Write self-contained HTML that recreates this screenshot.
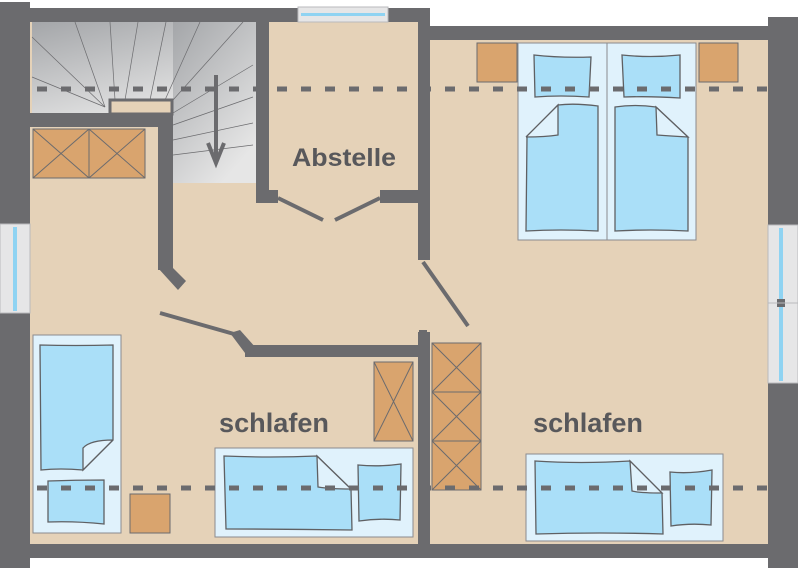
<!DOCTYPE html>
<html><head><meta charset="utf-8"><style>
html,body{margin:0;padding:0;background:#fff;}
svg{display:block;}
text{font-family:"Liberation Sans",sans-serif;font-weight:bold;fill:#58585b;}
</style></head><body>
<svg width="798" height="568" viewBox="0 0 798 568" xmlns="http://www.w3.org/2000/svg">
<defs>
<linearGradient id="st" x1="0" y1="0" x2="0.6" y2="1">
<stop offset="0" stop-color="#a4a6a9"/><stop offset="1" stop-color="#e6e6e6"/>
</linearGradient>
</defs>
<rect x="30" y="22" width="400" height="522" fill="#e5d2b8"/>
<rect x="418" y="38" width="352" height="506" fill="#e5d2b8"/>
<rect x="32" y="22" width="224" height="91" fill="url(#st)"/>
<rect x="173" y="22" width="83" height="161" fill="url(#st)"/>
<g stroke="#6b6b6e" stroke-width="0.7" fill="none">
<line x1="105" y1="107" x2="32" y2="37"/>
<line x1="105" y1="107" x2="32" y2="77"/>
<line x1="105" y1="107" x2="75" y2="22"/>
<line x1="115" y1="100" x2="110" y2="22"/>
<line x1="125" y1="100" x2="138" y2="22"/>
<line x1="150" y1="100" x2="166" y2="22"/>
<line x1="165" y1="100" x2="200" y2="22"/>
<line x1="173" y1="100" x2="243" y2="22"/>
<line x1="173" y1="113" x2="253" y2="65"/>
<line x1="173" y1="125" x2="253" y2="97"/>
<line x1="173" y1="140" x2="253" y2="123"/>
<line x1="173" y1="155" x2="253" y2="145"/>
</g>
<g fill="#d9a46e" stroke="#6b6b6e" stroke-width="1">
<rect x="33" y="129" width="112" height="49"/>
<line x1="89" y1="129" x2="89" y2="178"/>
<path d="M33 129 L89 178 M89 129 L33 178 M89 129 L145 178 M145 129 L89 178" fill="none"/>
<rect x="374" y="362" width="39" height="79"/>
<path d="M374 362 L413 441 M413 362 L374 441" fill="none"/>
<rect x="432" y="343" width="49" height="147"/>
<path d="M432 392 H481 M432 441 H481 M432 343 L481 392 M481 343 L432 392 M432 392 L481 441 M481 392 L432 441 M432 441 L481 490 M481 441 L432 490" fill="none"/>
<rect x="477" y="43" width="40" height="39"/>
<rect x="699" y="43" width="39" height="39"/>
<rect x="130" y="494" width="40" height="39"/>
</g>
<g stroke="#8a8b8e" stroke-width="1" fill="#e0f2fc">
<rect x="518" y="43" width="178" height="197"/>
<line x1="607" y1="43" x2="607" y2="240"/>
<rect x="33" y="335" width="88" height="198"/>
<rect x="215" y="448" width="198" height="89"/>
<rect x="526" y="454" width="197" height="87"/>
</g>
<g stroke="#5f6063" stroke-width="1.3" fill="#aadff8">
<path d="M534 55 Q560 58 591 57 L589 97 Q560 95 535 97 Z"/>
<path d="M622 55 Q650 58 680 55 L680 98 Q650 96 624 97 Z"/>
<path d="M558 105 Q575 103 598 106 L598 231 Q560 229 526 231 L527 137 Z"/>
<path d="M526 137 L558 105 L558 135 Q545 137 526 137" fill="#e0f2fc"/>
<path d="M615 107 Q635 104 656 107 L688 137 L688 231 Q650 229 615 231 Z"/>
<path d="M656 107 L688 137 Q670 136 657 135 Z" fill="#e0f2fc"/>
<path d="M40 345 Q75 346 113 345 L113 440 L83 470 Q60 468 41 470 Z"/>
<path d="M113 440 L83 470 L83 448 Q90 440 113 440" fill="#e0f2fc"/>
<path d="M48 481 Q75 480 104 480 L104 524 Q75 521 48 522 Z"/>
<path d="M224 456 Q270 458 317 456 L351 489 L352 530 Q290 529 226 529 Z"/>
<path d="M317 456 L351 489 Q330 489 318 487 Z" fill="#e0f2fc"/>
<path d="M358 465 Q380 467 401 464 L400 520 Q380 518 359 521 Z"/>
<path d="M535 461 Q580 464 630 461 L662 493 L663 534 Q600 532 536 534 Z"/>
<path d="M630 461 L662 493 Q640 493 632 491 Z" fill="#e0f2fc"/>
<path d="M670 472 Q690 474 712 470 L711 525 Q690 523 671 526 Z"/>
</g>
<g stroke="#6b6b6e" stroke-width="5" stroke-dasharray="10 14">
<line x1="37" y1="89" x2="768" y2="89"/>
<line x1="37" y1="488" x2="768" y2="488"/>
</g>
<rect x="110" y="100" width="62" height="14" fill="#e5d2b8" stroke="#6b6b6e" stroke-width="3"/>
<line x1="216" y1="75" x2="216" y2="160" stroke="#6b6b6e" stroke-width="4"/>
<polyline points="208,143 216,163 224,143" fill="none" stroke="#6b6b6e" stroke-width="4"/>
<g fill="#6b6b6e">
<rect x="0" y="2" width="30" height="566"/>
<rect x="30" y="8" width="400" height="14"/>
<rect x="418" y="8" width="12" height="30"/>
<rect x="418" y="26" width="352" height="14"/>
<rect x="768" y="17" width="30" height="551"/>
<rect x="30" y="544" width="738" height="14"/>
<rect x="30" y="113" width="143" height="14"/>
<rect x="158" y="113" width="15" height="157"/>
<polygon points="158,268 173,268 186,281 178,290"/>
<rect x="256" y="22" width="13" height="180"/>
<rect x="256" y="190" width="22" height="13"/>
<rect x="380" y="190" width="50" height="13"/>
<rect x="418" y="22" width="12" height="238"/>
<rect x="245" y="345" width="185" height="12"/>
<polygon points="230,333 240,330 256,348 248,357"/>
<rect x="418" y="332" width="12" height="212"/>
<rect x="419" y="330" width="8" height="6"/>
</g>
<g stroke="#6b6b6e" stroke-width="4">
<line x1="278" y1="198" x2="323" y2="220"/>
<line x1="335" y1="220" x2="380" y2="198"/>
<line x1="160" y1="313" x2="234" y2="334"/>
<line x1="423" y1="262" x2="468" y2="326"/>
</g>
<g fill="#e6e6e7" stroke="#b9babc" stroke-width="1">
<rect x="298" y="7" width="90" height="15"/>
<rect x="0" y="224" width="30" height="89"/>
<rect x="768" y="225" width="30" height="158"/>
</g>
<g fill="#8fd3f2">
<rect x="301" y="13" width="84" height="3"/>
<rect x="13" y="227" width="4" height="84"/>
<rect x="779" y="228" width="4" height="153"/>
</g>
<rect x="777" y="299" width="8" height="8" fill="#6b6b6e"/>
<line x1="768" y1="303" x2="798" y2="303" stroke="#b9babc"/>
<text x="344" y="166" font-size="25" text-anchor="middle" textLength="104" lengthAdjust="spacingAndGlyphs">Abstelle</text>
<text x="274" y="432" font-size="27" text-anchor="middle" textLength="110" lengthAdjust="spacingAndGlyphs">schlafen</text>
<text x="588" y="432" font-size="27" text-anchor="middle" textLength="110" lengthAdjust="spacingAndGlyphs">schlafen</text>
</svg>
</body></html>
